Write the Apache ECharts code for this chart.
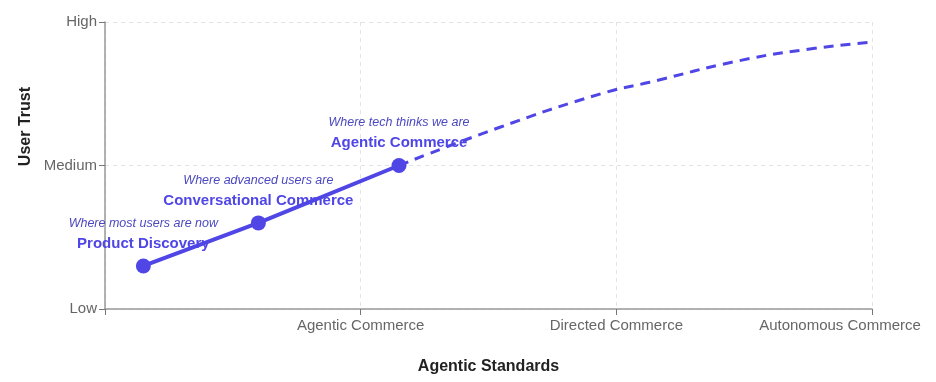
<!DOCTYPE html>
<html><head><meta charset="utf-8">
<script src="https://cdn.jsdelivr.net/npm/echarts@6/dist/echarts.min.js"></script>
<style>html,body{margin:0;padding:0;background:#fff}#c{width:936px;height:382px}</style>
</head><body><div id="c"></div>
<script>
const xTickLabels = ["", "Agentic Commerce", "Directed Commerce", "Autonomous Commerce"];
const yTickLabels = ["Low", "Medium", "High"];
const stageNames = ["Product Discovery", "Conversational Commerce", "Agentic Commerce"];
const stageNotes = ["Where most users are now", "Where advanced users are", "Where tech thinks we are"];
const stageX = [0.15, 0.6, 1.15];
const stageY = [0.3, 0.6, 1.0];
const projX = [1.15, 1.55, 1.94, 2.13, 2.48, 2.75, 3];
const projY = [1.0, 1.27, 1.5, 1.58, 1.73, 1.81, 1.86];

const C = '#4f46e5';
const font = 'Liberation Sans, Arial, sans-serif';
const chart = echarts.init(document.getElementById('c'));
chart.setOption({
  animation: false,
  textStyle: { fontFamily: font },
  grid: { left: 105, right: 64, top: 22, bottom: 73, outerBoundsMode: 'none', containLabel: false },
  xAxis: {
    type: 'value', min: 0, max: 3, interval: 1,
    name: 'Agentic Standards', nameLocation: 'middle', nameGap: 50,
    nameTextStyle: { fontWeight: 'bold', fontSize: 16, color: '#222', fontFamily: font },
    axisLine: { lineStyle: { color: '#999', width: 1.5 } },
    axisTick: { show: true, length: 6, lineStyle: { color: '#777' } },
    axisLabel: {
      color: '#666', fontSize: 15, margin: 9,
      formatter: v => {
        const i = Math.round(v);
        const t = xTickLabels[i] || '';
        return i === xTickLabels.length - 1 ? '{last|' + t + '}' : t;
      },
      rich: { last: { color: '#666', fontSize: 15, fontFamily: font, padding: [0, 64, 0, 0] } }
    },
    splitLine: { show: true, lineStyle: { color: '#e2e2e8', type: [4, 4] } }
  },
  yAxis: {
    type: 'value', min: 0, max: 2, interval: 1,
    axisLine: { show: true, lineStyle: { color: '#999', width: 1.5 } },
    axisTick: { show: true, length: 6, lineStyle: { color: '#777' } },
    axisLabel: { color: '#666', fontSize: 15, margin: 8, formatter: v => yTickLabels[Math.round(v)] || '' },
    splitLine: { show: true, lineStyle: { color: '#e2e2e8', type: [4, 4] } }
  },
  graphic: [{
    type: 'text', left: 18, top: 87, rotation: Math.PI / 2,
    style: { text: 'User Trust', fill: '#222', font: 'bold 16px ' + font }
  }],
  series: [
    {
      type: 'line', data: projX.map((x, i) => [x, projY[i]]), smooth: true,
      symbol: 'none', lineStyle: { color: C, width: 3, type: [10, 7] }, z: 2
    },
    {
      type: 'line', data: stageX.map((x, i) => [x, stageY[i]]),
      symbol: 'circle', symbolSize: 15, itemStyle: { color: C },
      lineStyle: { color: C, width: 4 }, z: 3,
      label: {
        show: true, position: 'top', distance: 5,
        formatter: p => '{a|' + stageNotes[p.dataIndex] + '}\n{b|' + stageNames[p.dataIndex] + '}',
        rich: {
          a: { fontStyle: 'italic', fontSize: 12.5, color: '#4b48c0', lineHeight: 20, fontFamily: font },
          b: { fontWeight: 'bold', fontSize: 15, color: C, lineHeight: 20, fontFamily: font }
        }
      }
    }
  ]
});
</script></body></html>
